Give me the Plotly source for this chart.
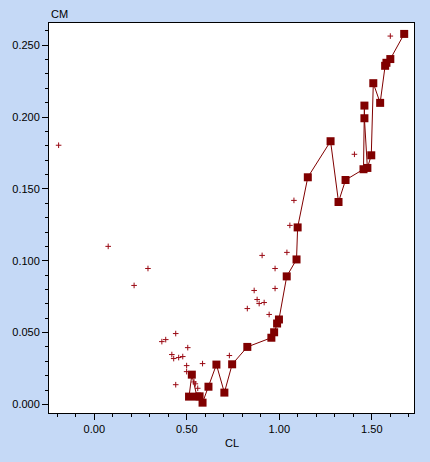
import plotly.graph_objects as go

# Line series (squares), in drawing order
line_cl = [0.512, 0.527, 0.555, 0.569, 0.585, 0.617, 0.660, 0.703, 0.745, 0.827,
           0.957, 0.972, 0.988, 0.998, 1.040, 1.093, 1.099, 1.154, 1.277, 1.320,
           1.358, 1.455, 1.460, 1.460, 1.476, 1.497, 1.508, 1.545, 1.572, 1.579,
           1.600, 1.675]
line_cm = [0.0054, 0.0207, 0.0054, 0.0056, 0.0012, 0.0123, 0.0277, 0.0082, 0.0279, 0.0400,
           0.0464, 0.0502, 0.0563, 0.0591, 0.0891, 0.1009, 0.1232, 0.1581, 0.1832, 0.1409,
           0.1562, 0.1637, 0.2080, 0.1992, 0.1646, 0.1734, 0.2236, 0.2099, 0.2357, 0.2378,
           0.2404, 0.2579]

# Scatter series (small crosses)
dot_cl = [-0.193, 0.075, 0.290, 0.215, 0.365, 0.386, 0.440, 0.419, 0.429, 0.456,
          0.478, 0.505, 0.499, 0.499, 0.440, 0.585, 0.539, 0.546, 0.559, 0.730,
          0.827, 0.864, 0.880, 0.891, 0.918, 0.907, 0.977, 0.977, 0.945, 1.041,
          1.079, 1.057, 1.406, 1.600]
dot_cm = [0.1804, 0.1100, 0.0946, 0.0828, 0.0437, 0.0451, 0.0493, 0.0347, 0.0319, 0.0326,
          0.0333, 0.0395, 0.0270, 0.0228, 0.0137, 0.0284, 0.0156, 0.0143, 0.0112, 0.0340,
          0.0667, 0.0793, 0.0730, 0.0702, 0.0709, 0.1037, 0.0946, 0.0807, 0.0626, 0.1058,
          0.1420, 0.1246, 0.1741, 0.2564]

x_title = "CL"
y_title = "CM"

bg = "#C5D9F6"
font = dict(family="Liberation Sans, Arial, sans-serif", size=11, color="#000000")

fig = go.Figure()
fig.add_trace(go.Scatter(
    x=line_cl, y=line_cm, mode="lines+markers",
    line=dict(color="#800000", width=1),
    marker=dict(symbol="square", size=8, color="#800000"),
    showlegend=False, cliponaxis=False))
fig.add_trace(go.Scatter(
    x=dot_cl, y=dot_cm, mode="markers",
    marker=dict(symbol="cross-thin", size=4, color="#9A0A14",
                line=dict(color="#9A0A14", width=1)),
    showlegend=False))

axis_common = dict(
    showgrid=False, zeroline=False, showline=True, mirror=True,
    linecolor="#000000", linewidth=1,
    ticks="outside", ticklen=6, tickwidth=1, tickcolor="#000000",
    tickfont=font,
)

fig.update_layout(
    width=430, height=462,
    paper_bgcolor=bg, plot_bgcolor="#FFFFFF",
    margin=dict(l=47, r=16, t=23, b=49, pad=0),
    font=font,
    xaxis=dict(range=[-0.245, 1.728], dtick=0.5, tick0=0, tickformat=".2f",
               minor=dict(dtick=0.1, ticklen=3, tickcolor="#000000", ticks="outside"),
               **axis_common),
    yaxis=dict(range=[-0.006, 0.2655], dtick=0.05, tick0=0, tickformat=".3f",
               minor=dict(dtick=0.01, ticklen=3, tickcolor="#000000", ticks="outside"),
               **axis_common),
    annotations=[
        dict(text=y_title, xref="paper", yref="paper", x=0, y=1,
             xanchor="left", yanchor="bottom", yshift=1, showarrow=False, font=font),
        dict(text=x_title, xref="paper", yref="paper", x=0.5, y=0,
             xanchor="center", yanchor="top", yshift=-22, showarrow=False, font=font),
    ],
)

fig.write_html(
    "out.html",
    config={"displayModeBar": False},
    post_script="document.body.style.margin='0';document.body.style.padding='0';"
                "document.body.style.background='" + bg + "';",
)
